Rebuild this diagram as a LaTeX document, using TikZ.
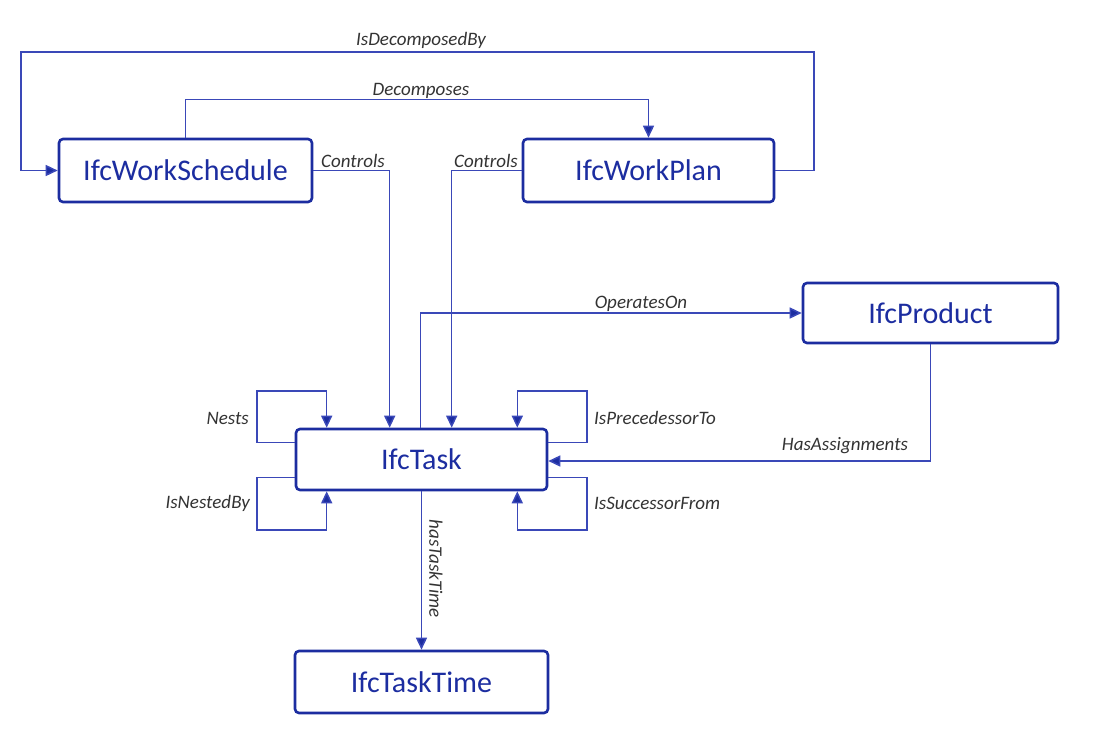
\documentclass[tikz,border=0pt]{standalone}
\usepackage{fontspec}
\setmainfont{Carlito}
\usetikzlibrary{arrows.meta,calc}
\definecolor{boxblue}{HTML}{1C2DA0}
\definecolor{lineblue}{HTML}{3A48B8}
\definecolor{labelgray}{HTML}{333333}
\tikzset{
  entity/.style={draw=boxblue, line width=2.6pt, rounded corners=4pt, fill=white,
    text=boxblue, font=\fontsize{30}{32}\selectfont, inner sep=0pt, anchor=center},
  rel/.style={draw=lineblue, line width=1.5pt,
    -{Triangle[length=12pt,width=11pt,fill=boxblue]}},
  lbl/.style={text=labelgray, font=\fontsize{19}{21}\selectfont\itshape, inner sep=0pt}
}
\begin{document}
\begin{tikzpicture}[x=1pt,y=-1pt]
\useasboundingbox (0,0) rectangle (1093,739);
% nodes
\node[entity, minimum width=253pt, minimum height=63pt] (WS) at (185.5,170.5) {IfcWorkSchedule};
\node[entity, minimum width=251pt, minimum height=63pt] (WP) at (648.5,170.5) {IfcWorkPlan};
\node[entity, minimum width=251pt, minimum height=61pt] (Task) at (421.5,459.5) {IfcTask};
\node[entity, minimum width=255pt, minimum height=60pt] (Prod) at (930.5,313) {IfcProduct};
\node[entity, minimum width=253pt, minimum height=62pt] (Time) at (421.5,682) {IfcTaskTime};
% bend coordinates
\coordinate (d1) at (814,52);
\coordinate (d2) at (21,52);
\coordinate (nL) at (257,391);
\coordinate (nbL) at (257,530);
\coordinate (pR) at (587,391);
\coordinate (sR) at (587,530);
% connectors
\draw[rel] (WP.east) -| (d1) -- (d2) |- (WS.west);
\draw[rel] (WS.north) -- ++(0,-38) -| (WP.north);
\draw[rel] (WS.east) -| ([xshift=95pt]Task.north west);
\draw[rel] (WP.west) -| ([xshift=157pt]Task.north west);
\draw[rel] ([xshift=126pt]Task.north west) |- (Prod.west);
\draw[rel] (Prod.south) |- ([yshift=-1.5pt]Task.east);
\draw[rel] ([yshift=-15pt]Task.north west) -| (nL) -| ([xshift=32pt]Task.north west);
\draw[rel] ([yshift=14pt]Task.south west) -| (nbL) -| ([xshift=32pt]Task.south west);
\draw[rel] ([yshift=-15pt]Task.north east) -| (pR) -| ([xshift=-31pt]Task.north east);
\draw[rel] ([yshift=14pt]Task.south east) -| (sR) -| ([xshift=-31pt]Task.south east);
\draw[rel] (Task.south) -- (Time.north);
% labels
\node[lbl] (lIDB) at (421,40) {IsDecomposedBy};
\node[lbl] (lDec) at (421,91) {Decomposes};
\node[lbl] (lC1) at (353,161) {Controls};
\node[lbl] (lC2) at (486,161) {Controls};
\node[lbl] (lOp) at (641,304) {OperatesOn};
\node[lbl] (lHA) at (845,446) {HasAssignments};
\node[lbl, anchor=east] (lN) at (249,418) {Nests};
\node[lbl, anchor=east] (lNB) at (250,503) {IsNestedBy};
\node[lbl, anchor=west] (lP) at (594,418) {IsPrecedessorTo};
\node[lbl, anchor=west] (lS) at (594,503) {IsSuccessorFrom};
\node[lbl, rotate=-90] (lT) at (436,569) {hasTaskTime};
\end{tikzpicture}
\end{document}
